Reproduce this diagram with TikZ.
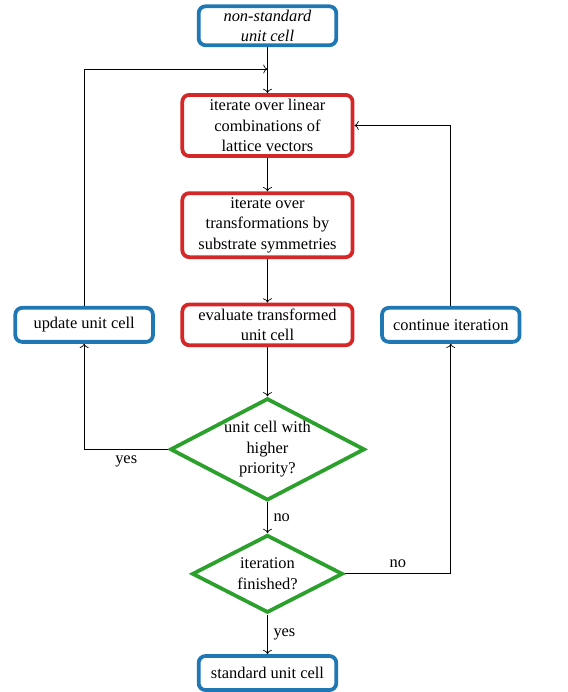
\documentclass[tikz,border=0pt]{standalone}
\usepackage{fontspec}
\setmainfont{Liberation Serif}
\usepackage{xcolor}
\usepackage{tikz}
\usetikzlibrary{arrows.meta,shapes.geometric}
\definecolor{cellblue}{RGB}{31,119,180}
\definecolor{cellred}{RGB}{214,39,40}
\definecolor{cellgreen}{RGB}{44,160,44}

\begin{document}
\begin{tikzpicture}[font=\fontsize{9.6}{12}\selectfont]
    \tikzstyle{terminal} = [draw=cellblue,line width=2.2pt,rounded corners=4pt,minimum width=2.83cm,minimum height=0.7cm,inner sep=2pt,align=center]
    \tikzstyle{process} = [draw=cellred,line width=2.2pt,rounded corners=4pt,minimum width=3.5cm,inner sep=2.5pt,align=center]
    \tikzstyle{decision} = [draw=cellgreen,line width=2.2pt,diamond,shape aspect=1.9,inner sep=0pt,align=center]
        \useasboundingbox (0,0) rectangle (11.66,-14.23);
        \node[terminal,font=\fontsize{9.6}{12}\selectfont\itshape] (start) at (5.5,-0.53) {non-standard\\unit cell};
        \node[process] (combos) at (5.5,-2.58) {iterate over linear\\combinations of\\lattice vectors};
        \node[process] (symm) at (5.5,-4.63) {iterate over\\transformations by\\substrate symmetries};
        \node[process] (evaluate) at (5.5,-6.68) {evaluate transformed\\unit cell};
        \node[terminal] (update) at (1.73,-6.68) {update unit cell};
        \node[terminal] (continue) at (9.27,-6.68) {continue iteration};
        \node[decision,minimum width=4.0cm,minimum height=2.1cm] (priority) at (5.5,-9.24) {unit cell with\\higher\\priority?};
        \node[decision,minimum width=3.1cm,minimum height=1.6cm] (finished) at (5.5,-11.8) {iteration\\finished?};
        \node[terminal] (standard) at (5.5,-13.84) {standard unit cell};
        \coordinate (merge) at (5.5,-1.42);
        \draw[->] (start) -- (combos);
        \draw[->] (update.north) |- (merge);
        \draw[->] (continue.north) |- (combos.east);
        \draw[->] (combos) -- (symm);
        \draw[->] (symm) -- (evaluate);
        \draw[->] (evaluate) -- (priority);
        \draw[->] (priority.west) -| node[pos=0.25,below] {yes} (update.south);
        \draw[->] (priority.south) -- node[right] {no} (finished.north);
        \draw[->] (finished.east) -| node[pos=0.25,above] {no} (continue.south);
        \draw[->] (finished.south) -- node[right] {yes} (standard.north);
    \end{tikzpicture}
\end{document}
